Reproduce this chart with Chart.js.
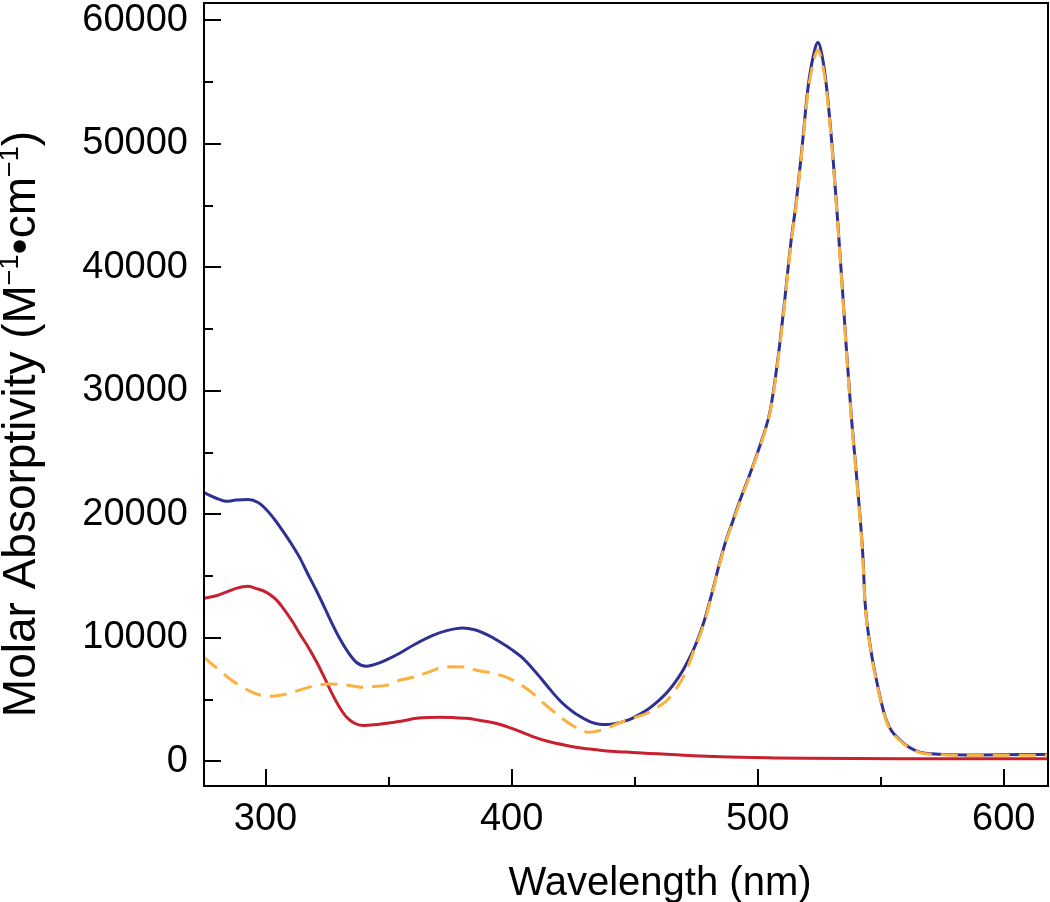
<!DOCTYPE html>
<html>
<head>
<meta charset="utf-8">
<script src="https://cdn.jsdelivr.net/npm/chart.js@4/dist/chart.umd.min.js"></script>
<style>
    html, body { margin: 0; padding: 0; background: #fff; }
    #wrap { width: 1050px; height: 902px; }
</style>
</head>
<body>
<div id="wrap"><canvas id="spectrum"></canvas></div>
<script>
// Blue trace
const blueWl = [275, 280, 284, 288, 293, 297, 300, 304, 307, 311, 314, 317, 320.6, 324, 327, 330, 333, 337, 341, 346, 350, 354.5, 360, 368, 374, 380, 385, 390, 395, 400.4, 404, 408.6, 412, 415.5, 419, 422.4, 426, 429, 432, 435.8, 439, 442.7, 446, 449, 452, 456, 460, 463.5, 467.5, 470, 473.6, 476, 478.5, 481.4, 484.6, 487, 490, 492.8, 496, 498.9, 501, 503, 505, 506.8, 509, 511, 513.5, 515.5, 517.8, 520.5, 522.5, 524.5, 526.3, 528, 530.5, 532.5, 534.4, 536.2, 538.2, 540.6, 542.8, 543.6, 545.4, 548.3, 552.3, 558, 566, 572, 590, 618];
const blueAbs = [21750, 21300, 21050, 21150, 21200, 20950, 20450, 19500, 18650, 17450, 16450, 15250, 13850, 12450, 11170, 10000, 9000, 8000, 7700, 7950, 8300, 8750, 9400, 10200, 10600, 10800, 10650, 10250, 9700, 9000, 8450, 7500, 6700, 5850, 5050, 4400, 3850, 3500, 3200, 3000, 2980, 3080, 3250, 3480, 3800, 4300, 4950, 5650, 6700, 7500, 8900, 10050, 11500, 13600, 16100, 17800, 19500, 21130, 22800, 24370, 25600, 26800, 28300, 30500, 33800, 37330, 42000, 45000, 49200, 54600, 57000, 58200, 57000, 54600, 49200, 43800, 38400, 33000, 27600, 22200, 16500, 13000, 9800, 6560, 3320, 1700, 730, 600, 520, 560];

// Red trace
const redWl = [275, 280, 284, 288, 292.7, 296, 300.2, 304, 307, 311, 314, 317.5, 320.6, 324, 327, 330, 333, 336, 339.6, 344, 349, 355, 361.4, 366, 370.8, 376, 381.7, 388, 395, 401, 408.6, 415, 422.4, 429, 435.8, 442, 449, 456, 463, 470, 476.5, 485, 493, 505, 520, 540, 570, 600, 618];
const redAbs = [13200, 13400, 13700, 14000, 14170, 14000, 13700, 13150, 12450, 11300, 10300, 9200, 8100, 6750, 5500, 4400, 3560, 3100, 2900, 2950, 3080, 3250, 3480, 3550, 3560, 3540, 3480, 3280, 3000, 2600, 2000, 1600, 1280, 1050, 900, 800, 720, 640, 570, 490, 420, 360, 320, 280, 240, 220, 210, 200, 200];

// Orange dashed trace
const orangeWl = [275, 278, 281.3, 285, 289.4, 294, 298, 301.6, 306, 311, 316, 320.6, 326, 331, 335.5, 339.6, 344, 349, 354.5, 359.8, 366, 372, 376, 381.7, 385.8, 392.3, 398, 403, 408.6, 413, 418, 421, 424.8, 428, 431.8, 435, 438.7, 442.5, 446.8, 451, 455, 459, 463, 467, 471, 473.6, 476, 478.5, 481.4, 484.6, 487, 490, 492.8, 496, 498.9, 501, 503, 505, 506.8, 509, 511, 513.5, 515.5, 517.8, 520.5, 522.5, 524.5, 526.3, 528, 530.5, 532.5, 534.4, 536.2, 538.2, 540.6, 542.8, 543.6, 545.4, 548.3, 552.3, 558, 566, 572, 590, 618];
const orangeAbs = [8420, 7900, 7370, 6750, 6150, 5650, 5350, 5260, 5350, 5590, 5900, 6150, 6250, 6230, 6100, 5990, 6050, 6150, 6560, 6800, 7200, 7610, 7650, 7610, 7370, 7130, 6800, 6300, 5500, 4700, 3890, 3400, 2900, 2550, 2350, 2450, 2670, 3000, 3320, 3600, 3890, 4350, 4900, 5900, 7300, 8700, 9900, 11350, 13500, 16000, 17700, 19400, 21000, 22700, 24300, 25500, 26700, 28200, 30300, 33600, 37100, 41800, 44800, 49000, 54200, 56500, 57600, 56500, 54300, 49000, 43600, 38200, 32800, 27400, 22000, 16300, 12900, 9700, 6450, 3250, 1650, 700, 560, 480, 480];

const xMajorTicks = [300, 400, 500, 600];
const xMinorTicks = [350, 450, 550];
const yMajorTicks = [0, 10000, 20000, 30000, 40000, 50000, 60000];
const yMinorTicks = [5000, 15000, 25000, 35000, 45000, 55000];

const FONT = '"Liberation Sans", Arial, Helvetica, sans-serif';

function toPoints(xs, ys) {
    return xs.map((x, i) => ({ x, y: ys[i] }));
}

// box, inward ticks and axis titles
const framePlugin = {
    id: 'framePlugin',
    afterDraw(chart) {
        const { ctx, chartArea: a, scales } = chart;
        const xs = scales.x, ys = scales.y;
        ctx.save();
        ctx.strokeStyle = '#000';
        ctx.lineWidth = 2;
        ctx.strokeRect(a.left, a.top, a.right - a.left, a.bottom - a.top);

        ctx.beginPath();
        xMajorTicks.forEach(v => {
            const px = Math.round(xs.getPixelForValue(v));
            ctx.moveTo(px, a.bottom); ctx.lineTo(px, a.bottom - 17);
        });
        xMinorTicks.forEach(v => {
            const px = Math.round(xs.getPixelForValue(v));
            ctx.moveTo(px, a.bottom); ctx.lineTo(px, a.bottom - 9);
        });
        yMajorTicks.forEach(v => {
            const py = Math.round(ys.getPixelForValue(v));
            ctx.moveTo(a.left, py); ctx.lineTo(a.left + 17, py);
        });
        yMinorTicks.forEach(v => {
            const py = Math.round(ys.getPixelForValue(v));
            ctx.moveTo(a.left, py); ctx.lineTo(a.left + 9, py);
        });
        ctx.stroke();

        ctx.fillStyle = '#000';
        ctx.textBaseline = 'alphabetic';
        ctx.textAlign = 'center';
        ctx.font = '40px ' + FONT;
        ctx.fillText('Wavelength (nm)', 660, 895);

        // y title with superscripts
        const parts = [
            ['Molar Absorptivity (M', false],
            ['\u22121', true],
            ['\u2022cm', false],
            ['\u22121', true],
            [')', false]
        ];
        const big = '46px ' + FONT, small = '27px ' + FONT;
        let total = 0;
        parts.forEach(p => { ctx.font = p[1] ? small : big; total += ctx.measureText(p[0]).width; });
        ctx.translate(35, 424);
        ctx.rotate(-Math.PI / 2);
        ctx.textAlign = 'left';
        let cx = -total / 2;
        parts.forEach(p => {
            ctx.font = p[1] ? small : big;
            ctx.fillText(p[0], cx, p[1] ? -17 : 0);
            cx += ctx.measureText(p[0]).width;
        });
        ctx.restore();
    }
};

const ctx = document.getElementById('spectrum').getContext('2d');
new Chart(ctx, {
    type: 'line',
    data: {
        datasets: [
            {
                label: 'red',
                data: toPoints(redWl, redAbs),
                borderColor: '#c8202f',
                borderWidth: 3,
                order: 3
            },
            {
                label: 'blue',
                data: toPoints(blueWl, blueAbs),
                borderColor: '#2e3192',
                borderWidth: 3,
                order: 2
            },
            {
                label: 'orange',
                data: toPoints(orangeWl, orangeAbs),
                borderColor: '#fbb040',
                borderWidth: 3,
                borderDash: [17, 9],
                order: 1
            }
        ]
    },
    options: {
        responsive: true,
        maintainAspectRatio: false,
        animation: false,
        events: [],
        elements: {
            point: { radius: 0 },
            line: { cubicInterpolationMode: 'monotone', fill: false }
        },
        layout: { padding: { top: 3, right: 2, left: 0, bottom: 0 } },
        plugins: { legend: { display: false }, tooltip: { enabled: false } },
        scales: {
            x: {
                type: 'linear',
                min: 275,
                max: 618,
                grid: { display: false, drawTicks: false },
                border: { display: false },
                afterBuildTicks: s => { s.ticks = xMajorTicks.map(v => ({ value: v })); },
                afterFit: s => { s.height = 116; s.paddingLeft = 0; s.paddingRight = 0; },
                ticks: {
                    color: '#000',
                    padding: 11,
                    maxRotation: 0,
                    font: { family: FONT, size: 38 },
                    callback: v => String(v)
                }
            },
            y: {
                min: -2000,
                max: 61400,
                grid: { display: false, drawTicks: false },
                border: { display: false },
                afterBuildTicks: s => { s.ticks = yMajorTicks.map(v => ({ value: v })); },
                afterFit: s => { s.width = 204; s.paddingTop = 0; s.paddingBottom = 0; },
                ticks: {
                    color: '#000',
                    padding: 16,
                    font: { family: FONT, size: 38 },
                    callback: v => String(v)
                }
            }
        }
    },
    plugins: [framePlugin]
});
</script>
</body>
</html>
